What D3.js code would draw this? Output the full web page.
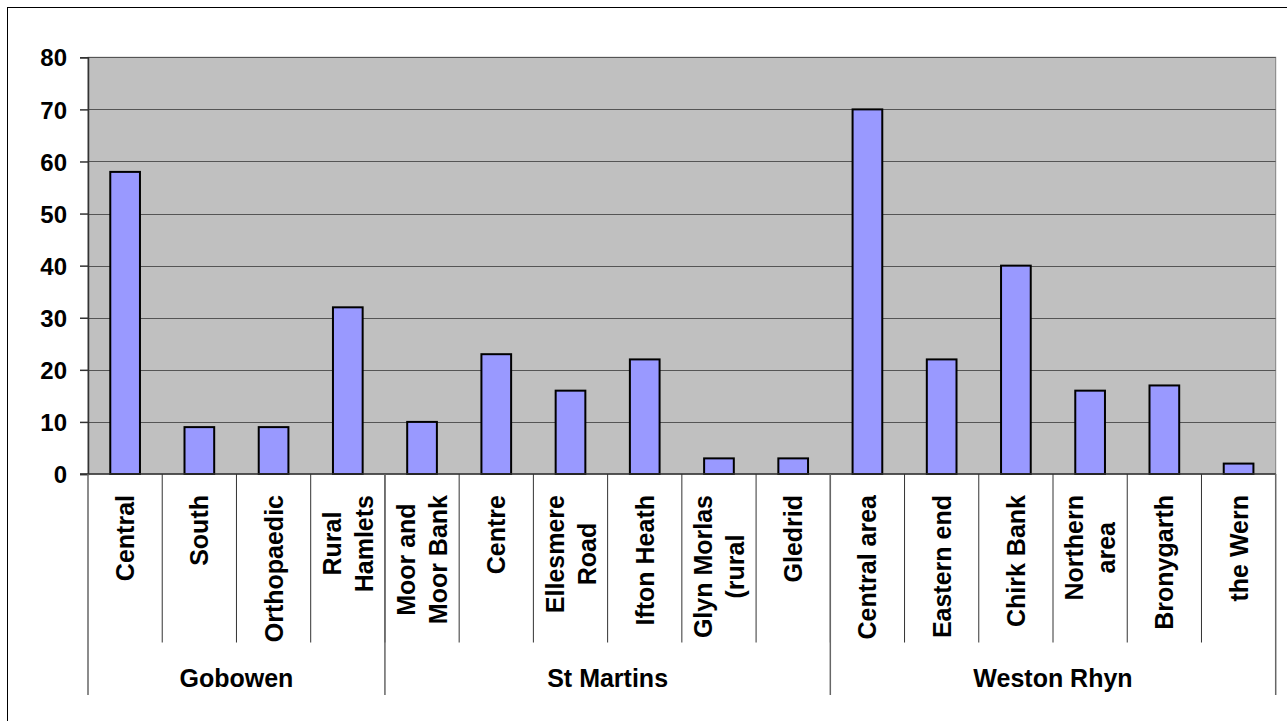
<!DOCTYPE html>
<html>
<head>
<meta charset="utf-8">
<script src="https://cdn.jsdelivr.net/npm/d3@7"></script>
<style>
  html, body { margin: 0; padding: 0; background: #fff; }
  svg { display: block; }
  text { font-family: "Liberation Sans", Arial, sans-serif; font-weight: bold; fill: #000; }
</style>
</head>
<body>
<svg id="chart" width="1287" height="721"></svg>
<script>
// ---- data ----
const categories = [
  ["Central"], ["South"], ["Orthopaedic"], ["Rural", "Hamlets"],
  ["Moor and", "Moor Bank"], ["Centre"], ["Ellesmere", "Road"], ["Ifton Heath"],
  ["Glyn Morlas", "(rural"], ["Gledrid"],
  ["Central area"], ["Eastern end"], ["Chirk Bank"], ["Northern", "area"], ["Bronygarth"], ["the Wern"]
];
const values = [58, 9, 9, 32, 10, 23, 16, 22, 3, 3, 70, 22, 40, 16, 17, 2];
const groups = ["Gobowen", "St Martins", "Weston Rhyn"];
const groupSizes = [4, 6, 6];
const yTicks = [0, 10, 20, 30, 40, 50, 60, 70, 80];

// ---- layout ----
const plotLeft = 88, plotRight = 1275.7, plotTop = 57.3, zeroY = 474;
const svg = d3.select("#chart");

svg.append("rect").attr("x", 7.5).attr("y", 7.5).attr("width", 1300).attr("height", 730)
  .attr("fill", "#fff").attr("stroke", "#000").attr("stroke-width", 1);

const idx = d3.range(categories.length);
const x = d3.scaleBand().domain(idx).range([plotLeft, plotRight]).padding(0);
const y = d3.scaleLinear().domain([0, 80]).range([zeroY, plotTop]);

// plot area
svg.append("rect").attr("x", plotLeft).attr("y", plotTop).attr("width", plotRight - plotLeft).attr("height", zeroY - plotTop)
  .attr("fill", "#C0C0C0").attr("stroke", "#808080").attr("stroke-width", 1);

// gridlines
svg.append("g").selectAll("line").data(yTicks.filter(d => d > 0)).join("line")
  .attr("x1", plotLeft).attr("x2", plotRight)
  .attr("y1", d => Math.round(y(d)) + 0.5).attr("y2", d => Math.round(y(d)) + 0.5)
  .attr("stroke", "#555").attr("stroke-width", 1);

// y axis
const yAxis = d3.axisLeft(y).tickValues(yTicks).tickSize(8).tickPadding(12);
const gy = svg.append("g").attr("transform", `translate(${plotLeft},0)`).call(yAxis);
gy.select(".domain").attr("stroke", "#333").attr("stroke-width", 1.5);
gy.selectAll(".tick line").attr("stroke", "#333").attr("stroke-width", 1.5);
gy.selectAll(".tick text").style("font-size", "24px").attr("font-family", null)
  .attr("x", -21).attr("dy", "0.36em");

// bars
const bw = x.bandwidth() * 0.4;
svg.append("g").selectAll("rect").data(idx).join("rect")
  .attr("x", i => x(i) + (x.bandwidth() - bw) / 2)
  .attr("y", i => y(values[i]))
  .attr("width", bw)
  .attr("height", i => zeroY - y(values[i]))
  .attr("fill", "#9999FF").attr("stroke", "#000").attr("stroke-width", 2);

// x axis line
svg.append("line").attr("x1", plotLeft - 8).attr("x2", plotRight).attr("y1", zeroY).attr("y2", zeroY)
  .attr("stroke", "#333").attr("stroke-width", 1.5);

// category separators
svg.append("g").selectAll("line").data(d3.range(1, categories.length)).join("line")
  .attr("x1", i => x(i)).attr("x2", i => x(i)).attr("y1", zeroY).attr("y2", 642.5)
  .attr("stroke", "#333").attr("stroke-width", 1);

// group separators
const bounds = [0];
groupSizes.forEach(s => bounds.push(bounds[bounds.length - 1] + s));
svg.append("g").selectAll("line").data(bounds).join("line")
  .attr("x1", b => b < categories.length ? x(b) : plotRight)
  .attr("x2", b => b < categories.length ? x(b) : plotRight)
  .attr("y1", zeroY).attr("y2", 695)
  .attr("stroke", "#666").attr("stroke-width", 1.5);

// category labels
const labelTop = 495, lineGap = 32;
idx.forEach(i => {
  const lines = categories[i];
  const cx = x(i) + x.bandwidth() / 2;
  const g = svg.append("g").attr("transform", `translate(${cx},${labelTop}) rotate(-90)`);
  const texts = lines.map((t, k) => g.append("text")
    .style("font-size", "25px")
    .attr("text-anchor", "middle")
    .attr("y", 9 + (k - (lines.length - 1) / 2) * lineGap)
    .text(t));
  const maxW = d3.max(texts, t => t.node().getComputedTextLength());
  texts.forEach(t => t.attr("x", -maxW / 2));
});

// group labels
groups.forEach((gname, k) => {
  const x0 = x(bounds[k]);
  const x1 = bounds[k + 1] < categories.length ? x(bounds[k + 1]) : plotRight;
  svg.append("text").attr("x", (x0 + x1) / 2).attr("y", 687)
    .attr("text-anchor", "middle").style("font-size", "25px").text(gname);
});
</script>
</body>
</html>
